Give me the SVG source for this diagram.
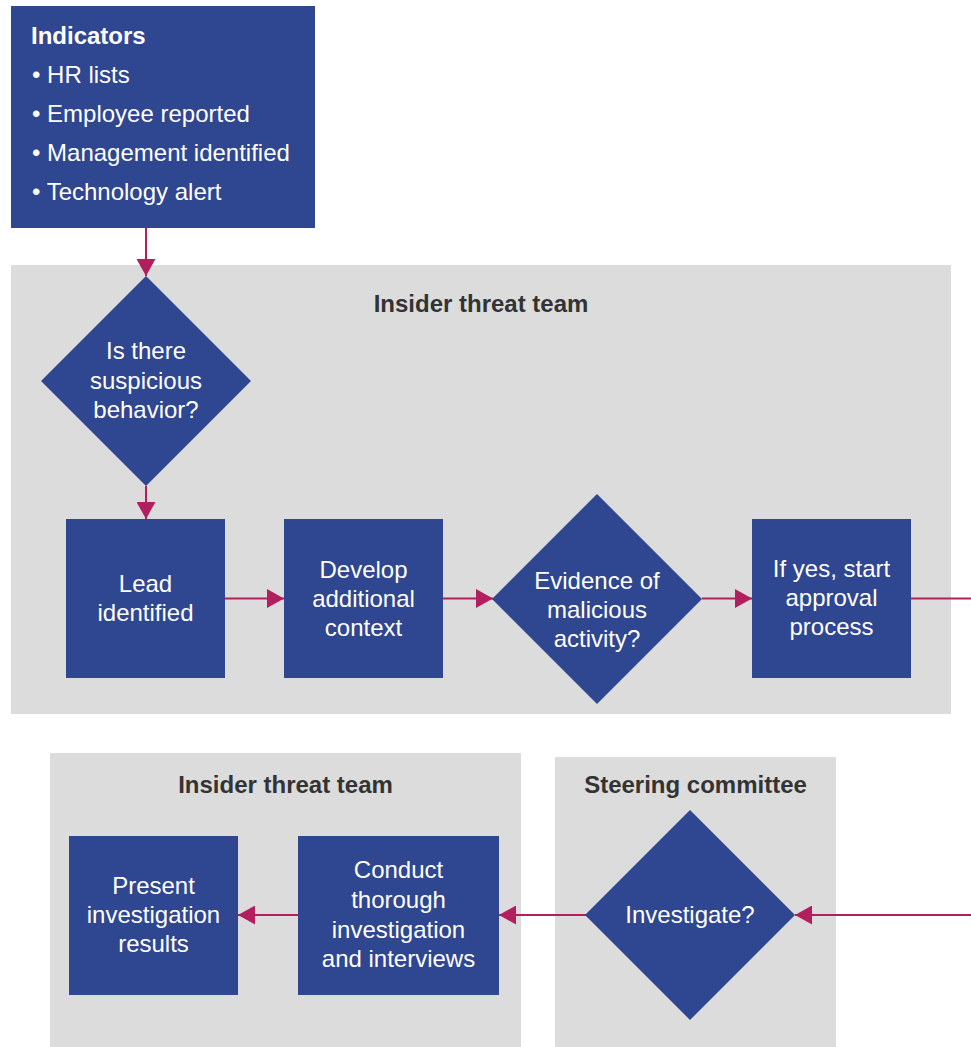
<svg xmlns="http://www.w3.org/2000/svg" width="971" height="1047" viewBox="0 0 971 1047">
<style>
.panel{fill:#DCDCDC}
.node{fill:#2F4690}
.title{font-family:"Liberation Sans",Arial,sans-serif;font-weight:bold;font-size:24px;fill:#333333;text-anchor:middle}
.lbl{font-family:"Liberation Sans",Arial,sans-serif;font-size:24px;fill:#FFFFFF;text-anchor:middle}
.lst{font-family:"Liberation Sans",Arial,sans-serif;font-size:24px;fill:#FFFFFF}
.hdr{font-family:"Liberation Sans",Arial,sans-serif;font-weight:bold;font-size:24px;fill:#FFFFFF}
.conn{fill:none;stroke:#B31F5E;stroke-width:2}
</style>
<defs>
<marker id="arr" viewBox="0 0 17 19" refX="17" refY="9.5" markerWidth="17" markerHeight="19" markerUnits="userSpaceOnUse" orient="auto">
<path d="M0,0 L17,9.5 L0,19 z" fill="#B31F5E"/>
</marker>
</defs>
<rect width="971" height="1047" fill="#FFFFFF"/>
<g id="panels">
<rect class="panel" x="11" y="265" width="940" height="449"/>
<text class="title" x="481" y="312">Insider threat team</text>
<rect class="panel" x="50" y="753" width="471" height="294"/>
<text class="title" x="285.5" y="793">Insider threat team</text>
<rect class="panel" x="555" y="757" width="281" height="290"/>
<text class="title" x="695.5" y="793">Steering committee</text>
</g>
<g id="connectors">
<path class="conn" d="M146,228 V276" marker-end="url(#arr)"/>
<path class="conn" d="M146,486 V519" marker-end="url(#arr)"/>
<path class="conn" d="M225,598.5 H284" marker-end="url(#arr)"/>
<path class="conn" d="M443,598.5 H493" marker-end="url(#arr)"/>
<path class="conn" d="M702,598.5 H752" marker-end="url(#arr)"/>
<path class="conn" d="M911,598.5 H971"/>
<path class="conn" d="M971,915 H795" marker-end="url(#arr)"/>
<path class="conn" d="M586,915 H499" marker-end="url(#arr)"/>
<path class="conn" d="M298,915 H238" marker-end="url(#arr)"/>
</g>
<g id="indicators">
<rect class="node" x="11" y="6" width="304" height="222"/>
<text class="hdr" x="31" y="44">Indicators</text>
<text class="lst" x="32" y="83">• HR lists</text>
<text class="lst" x="32" y="122">• Employee reported</text>
<text class="lst" x="32" y="161">• Management identified</text>
<text class="lst" x="32" y="200">• Technology alert</text>
</g>
<g id="suspicious">
<polygon class="node" points="146,276 251,381 146,486 41,381"/>
<text class="lbl" x="146" y="359">Is there</text>
<text class="lbl" x="146" y="388.5">suspicious</text>
<text class="lbl" x="146" y="418">behavior?</text>
</g>
<g id="lead">
<rect class="node" x="66" y="519" width="159" height="159"/>
<text class="lbl" x="145.5" y="592">Lead</text>
<text class="lbl" x="145.5" y="621">identified</text>
</g>
<g id="develop">
<rect class="node" x="284" y="519" width="159" height="159"/>
<text class="lbl" x="363.5" y="577.5">Develop</text>
<text class="lbl" x="363.5" y="606.5">additional</text>
<text class="lbl" x="363.5" y="636">context</text>
</g>
<g id="evidence">
<polygon class="node" points="597,494 702,599 597,704 492,599"/>
<text class="lbl" x="597" y="589">Evidence of</text>
<text class="lbl" x="597" y="618">malicious</text>
<text class="lbl" x="597" y="647">activity?</text>
</g>
<g id="approval">
<rect class="node" x="752" y="519" width="159" height="159"/>
<text class="lbl" x="831.5" y="577">If yes, start</text>
<text class="lbl" x="831.5" y="606">approval</text>
<text class="lbl" x="831.5" y="635">process</text>
</g>
<g id="investigate">
<polygon class="node" points="690,810 795,915 690,1020 585,915"/>
<text class="lbl" x="690" y="923">Investigate?</text>
</g>
<g id="conduct">
<rect class="node" x="298" y="836" width="201" height="159"/>
<text class="lbl" x="398.5" y="878">Conduct</text>
<text class="lbl" x="398.5" y="908">thorough</text>
<text class="lbl" x="398.5" y="937.5">investigation</text>
<text class="lbl" x="398.5" y="967">and interviews</text>
</g>
<g id="present">
<rect class="node" x="69" y="836" width="169" height="159"/>
<text class="lbl" x="153.5" y="894">Present</text>
<text class="lbl" x="153.5" y="923">investigation</text>
<text class="lbl" x="153.5" y="952">results</text>
</g>
</svg>
